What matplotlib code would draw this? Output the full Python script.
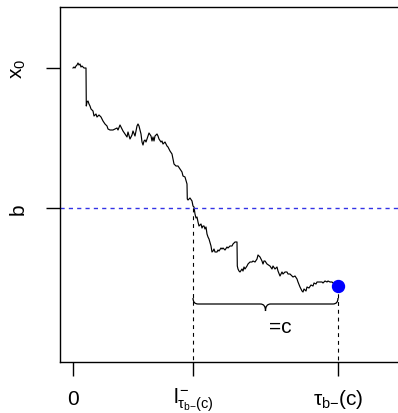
import matplotlib
matplotlib.use("Agg")
import matplotlib.pyplot as plt
from matplotlib.path import Path
from matplotlib.patches import PathPatch

plt.rcParams["font.family"] = ["Liberation Sans", "DejaVu Sans"]
plt.rcParams["mathtext.fontset"] = "custom"
plt.rcParams["mathtext.rm"] = "Liberation Sans"
plt.rcParams["mathtext.it"] = "Liberation Sans"
plt.rcParams["mathtext.sf"] = "Liberation Sans"
plt.rcParams["mathtext.bf"] = "Liberation Sans:bold"

# Sample path of the process (time, level); level b = 0, start x0 = 140
t = [0, 1, 2, 3, 4, 5, 6, 7, 8, 9, 11, 13, 13.3, 14, 15, 16, 17, 18, 20, 21,
     23, 24, 26, 28, 30, 32, 34, 35, 37, 40, 42, 44, 45, 47, 49, 50, 52, 54,
     55, 57, 59, 60, 62, 64, 65, 66, 68, 69, 70, 71, 72, 73, 74, 75, 76, 78,
     79, 80, 81, 82, 84, 85, 86, 88, 89, 90, 92, 94, 95, 97, 99, 100, 101,
     103, 105, 107, 109, 110, 112, 114, 114.3, 115, 117, 119, 120, 121, 122,
     123, 124, 125, 126, 128, 129, 130, 131, 132, 133, 134, 135, 136, 138,
     139, 140, 141, 142, 144, 145, 146, 148, 149, 150, 152, 154, 155, 157,
     159, 160, 162, 163, 164, 164.3, 165, 166, 167, 169, 170, 171, 172, 174,
     175, 177, 179, 180, 182, 184, 185, 187, 189, 190, 191, 192, 194, 197,
     199, 200, 202, 204, 205, 207, 209, 210, 212, 214, 215, 217, 219, 220,
     222, 224, 225, 227, 229, 230, 231, 233, 234, 236, 238, 240, 241, 243,
     244, 246, 249, 250, 252, 254, 255, 257, 259, 260, 262, 265]
x = [140, 141, 140, 142, 143, 145, 143, 144, 141, 142, 140, 140, 102, 106,
     107, 104, 102, 99, 97, 92, 94, 91, 93, 91, 87, 84, 82, 79, 78, 78, 79,
     80, 78, 83, 79, 77, 74, 71, 76, 69, 73, 77, 72, 82, 84, 82, 74, 66, 63,
     67, 68, 66, 69, 72, 75, 72, 67, 71, 67, 72, 74, 72, 69, 66, 67, 64, 66,
     62, 61, 57, 54, 49, 44, 42, 42, 39, 36, 32, 31, 24, 9, 8, 10, 7, 2, 1,
     -6, -10, -9, -14, -18, -16, -20, -18, -18, -21, -19, -26, -29, -31, -38,
     -44, -43, -41, -44, -44, -42, -43, -40, -41, -40, -42, -39, -40, -38,
     -38, -36, -34, -34, -34, -58, -61, -63, -64, -61, -63, -59, -61, -58,
     -56, -54, -54, -53, -54, -51, -47, -49, -53, -56, -53, -53, -56, -58,
     -61, -58, -61, -59, -63, -68, -64, -66, -64, -64, -66, -66, -68, -69,
     -68, -71, -74, -79, -83, -84, -81, -83, -79, -80, -77, -78, -75, -76,
     -74, -74, -74, -75, -73, -74, -73, -74, -74, -75, -76, -78]

b_level = 0          # barrier b
x0_level = 140       # starting point x0
l_time = 120         # last passage below b
tau_time = 265       # tau_{b-}(c)

W, H = 398, 414
fig = plt.figure(figsize=(W / 100, H / 100), dpi=100)
ax = fig.add_axes([60 / W, (H - 363) / H, (W - 60) / W, (363 - 8) / H])
ax.set_xlim(-13, 325)
ax.set_ylim(-154, 201)

for side in ("left", "bottom", "top"):
    ax.spines[side].set_linewidth(1.0)
ax.spines["right"].set_visible(False)

# path
ax.plot(t, x, color="black", lw=0.85, solid_joinstyle="round")

# barrier b
ax.axhline(b_level, color="#3333e6", lw=1.0, dashes=(3, 3))

# dashed guides
ax.plot([l_time, l_time], [b_level, -154], color="black", lw=0.8,
        dashes=(3.5, 3.5), clip_on=False)
ax.plot([tau_time, tau_time], [x[-1], -154], color="black", lw=0.8,
        dashes=(3.5, 3.5), clip_on=False)

# endpoint
ax.plot([tau_time], [x[-1]], "o", color="#0000ff", ms=8.6, zorder=5)

# brace under the interval [l, tau]
yb, yend, ytip, cw = -96, -90, -103, 5
mid = (l_time + tau_time) / 2
verts = [(l_time, yend), (l_time, yb), (l_time + cw, yb),
         (mid - cw, yb), (mid, yb), (mid, ytip),
         (mid, yb), (mid + cw, yb),
         (tau_time - cw, yb), (tau_time, yb), (tau_time, yend)]
codes = [Path.MOVETO, Path.CURVE3, Path.CURVE3,
         Path.LINETO, Path.CURVE3, Path.CURVE3,
         Path.CURVE3, Path.CURVE3,
         Path.LINETO, Path.CURVE3, Path.CURVE3]
ax.add_patch(PathPatch(Path(verts, codes), fill=False, lw=0.9, ec="black"))
ax.text(mid + 15, -119, "=c", fontsize=15, ha="center", va="center")

# axes ticks and labels
bminus = "\\text{b\u2212}"
ax.set_xticks([0, l_time, tau_time],
              ["0", "$l^{-}_{\\tau_{" + bminus + "}(c)}$",
               "$\\tau_{" + bminus + "}(c)$"])
ax.set_yticks([b_level, x0_level], ["b", r"$x_0$"])
ax.tick_params(axis="both", direction="out", length=10, width=1.0,
               labelsize=15)
ax.tick_params(axis="x", pad=16.5)
ax.tick_params(axis="y", pad=20, labelrotation=90)
for lab in ax.get_xticklabels():
    lab.set_va("center")
for lab in ax.get_yticklabels():
    lab.set_ha("center")
    lab.set_va("center")

fig.savefig("out.png", dpi=100)
